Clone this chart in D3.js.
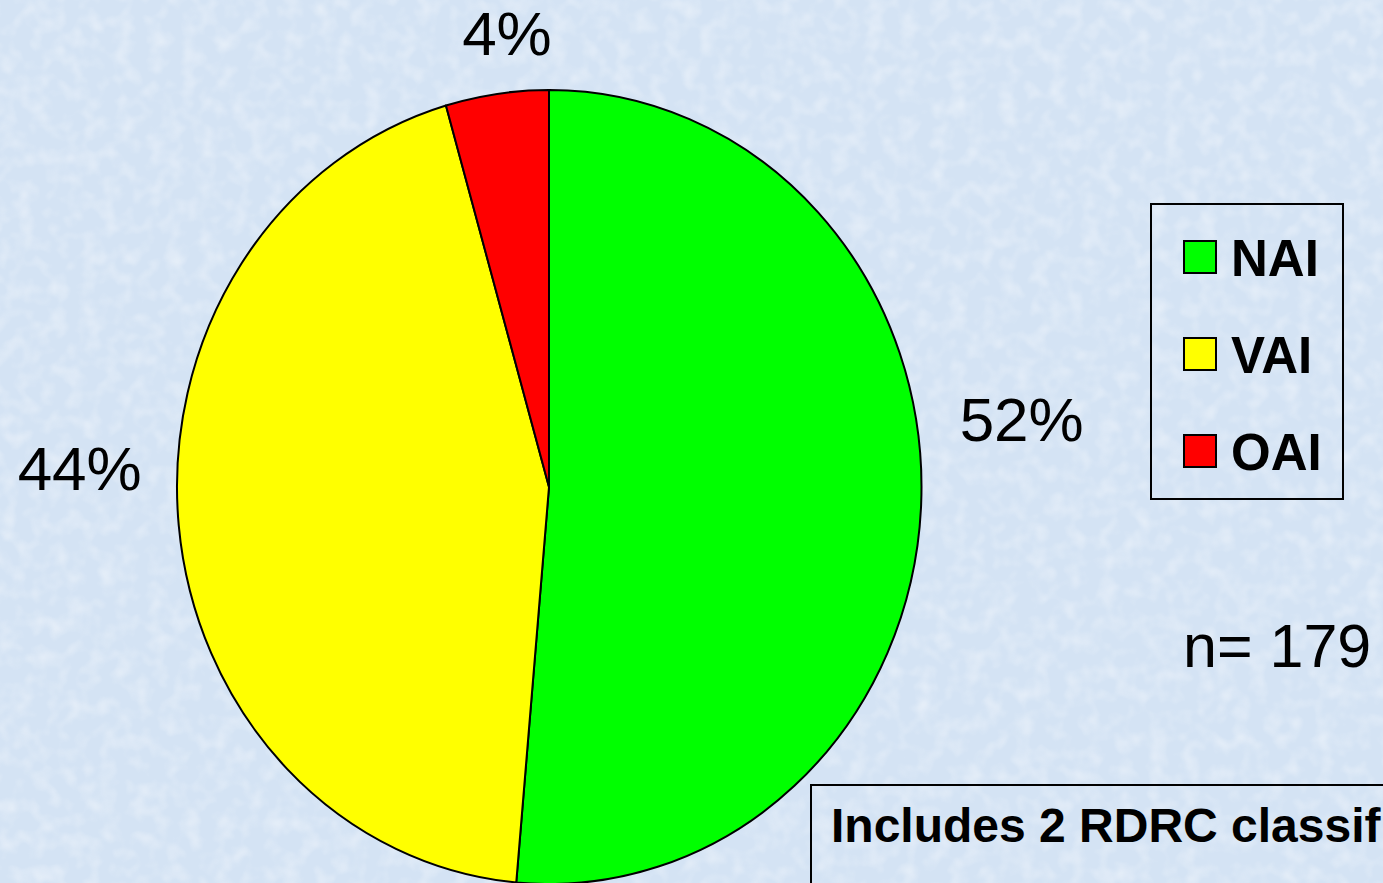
<!DOCTYPE html>
<html>
<head>
<meta charset="utf-8">
<title>Pie</title>
<script src="https://d3js.org/d3.v7.min.js"></script>
<style>
  body { margin: 0; overflow: hidden; }
  text { font-family: "Liberation Sans", Arial, sans-serif; }
</style>
</head>
<body>
<script>
// data
var categories = ["NAI", "VAI", "OAI"];
var counts = [92, 79, 8];
var pctLabels = ["52%", "44%", "4%"];
var colors = ["#00ff00", "#ffff00", "#ff0000"];
var note = "Includes 2 RDRC classif";

var W = 1383, H = 883;
var cx = 549, cy = 487, rx = 372, ry = 397;

var svg = d3.select("body").append("svg")
  .attr("width", W).attr("height", H);

// mottled light blue background
var defs = svg.append("defs");
var f = defs.append("filter").attr("id", "mottle")
  .attr("x", 0).attr("y", 0).attr("width", "100%").attr("height", "100%");
f.append("feTurbulence").attr("type", "fractalNoise")
  .attr("baseFrequency", 0.06).attr("numOctaves", 2).attr("seed", 4);
f.append("feColorMatrix").attr("type", "matrix")
  .attr("values", "0 0 0 0 1  0 0 0 0 1  0 0 0 0 1  0 0 0 1.3 -0.55");
svg.append("rect").attr("width", W).attr("height", H).attr("fill", "#d4e3f4");
svg.append("rect").attr("width", W).attr("height", H)
  .attr("filter", "url(#mottle)").attr("opacity", 0.6);

// pie, drawn as unit circle and stretched into the ellipse
var data = categories.map(function(c, i) {
  return {name: c, value: counts[i], label: pctLabels[i], color: colors[i]};
});
var pie = d3.pie().sort(null).value(function(d) { return d.value; });
var arcs = pie(data);
var arc = d3.arc().innerRadius(0).outerRadius(1);

var g = svg.append("g")
  .attr("transform", "translate(" + cx + "," + cy + ") scale(" + rx + "," + ry + ")");
g.selectAll("path")
  .data(arcs)
  .enter().append("path")
  .attr("d", arc)
  .attr("fill", function(d) { return d.data.color; })
  .attr("stroke", "#000")
  .attr("stroke-width", 2)
  .attr("vector-effect", "non-scaling-stroke")
  .attr("stroke-linejoin", "round");

// percent labels outside the pie
svg.selectAll(".pct")
  .data(arcs)
  .enter().append("text")
  .attr("class", "pct")
  .each(function(d) {
    var a = (d.startAngle + d.endAngle) / 2;
    var s = Math.sin(a), c = Math.cos(a);
    var px = cx + rx * s, py = cy - ry * c;
    var t = d3.select(this);
    if (Math.abs(s) > 0.7) {
      t.attr("x", px + (s > 0 ? 39 : -37))
       .attr("y", py - 49 - 14 * Math.sign(s))
       .attr("text-anchor", s > 0 ? "start" : "end");
    } else {
      t.attr("x", px + 10)
       .attr("y", py - 39)
       .attr("text-anchor", "middle");
    }
  })
  .attr("font-size", 62)
  .attr("fill", "#000")
  .text(function(d) { return d.data.label; });

// legend
var legend = svg.append("g").attr("transform", "translate(1151,204)");
legend.append("rect")
  .attr("width", 192).attr("height", 295)
  .attr("fill", "none").attr("stroke", "#000").attr("stroke-width", 2);
var item = legend.selectAll(".item")
  .data(data)
  .enter().append("g")
  .attr("transform", function(d, i) { return "translate(0," + (53 + i * 97) + ")"; });
item.append("rect")
  .attr("x", 33).attr("y", -16).attr("width", 32).attr("height", 32)
  .attr("fill", function(d) { return d.color; })
  .attr("stroke", "#000").attr("stroke-width", 2);
item.append("text")
  .attr("x", 80).attr("y", 19)
  .attr("font-size", 51).attr("font-weight", "bold")
  .text(function(d) { return d.name; });

// n
svg.append("text")
  .attr("x", 1183).attr("y", 667)
  .attr("font-size", 61)
  .text("n= " + d3.sum(counts));

// note box, running off the page
svg.append("rect")
  .attr("x", 811).attr("y", 785).attr("width", 700).attr("height", 200)
  .attr("fill", "none").attr("stroke", "#000").attr("stroke-width", 2);
svg.append("text")
  .attr("x", 831).attr("y", 842)
  .attr("font-size", 48).attr("font-weight", "bold")
  .text(note);
</script>
</body>
</html>
